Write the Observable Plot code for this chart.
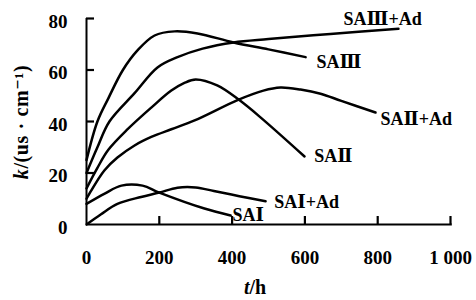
<!DOCTYPE html>
<html><head><meta charset="utf-8">
<script src="https://cdn.jsdelivr.net/npm/d3@7"></script>
<script src="https://cdn.jsdelivr.net/npm/@observablehq/plot@0.6"></script>
<style>body{margin:0;background:#fff}</style>
</head><body><div id="chart"></div>
<script>
// [t (h), k] points
const SA3    = [[0,25],[30,40],[60,49],[100,60],[140,67.6],[187,73.4],[242,75],[305,74.2],[404,70.7],[500,68],[602,65]];
const SA3Ad  = [[0,20],[30,30],[63,40],[132,51],[195,61],[250,65],[319,68.3],[404,70.7],[500,72],[670,74],[857,76]];
const SA2    = [[0,14],[30,22],[60,29],[113,37],[178,45.4],[233,52],[269,55],[300,56.3],[359,54],[418,48.5],[478,41.6],[599,26.4]];
const SA2Ad  = [[0,10],[8,12],[49,21],[85,26],[132,30.7],[178,34],[233,37],[297,40.4],[418,48.5],[486,52],[533,53.2],[588,52.4],[643,50.8],[700,48],[794,43.5]];
const SA1    = [[0,8],[50,12],[96,15.1],[154,15.1],[200,12.4],[324,6.2],[396,3.5]];
const SA1Ad  = [[0,0],[40,4],[85,8],[150,10.7],[200,12.4],[250,14.3],[300,14.4],[350,13],[420,11],[492,9]];

const seriesNames = ["SAⅢ","SAⅢ+Ad","SAⅡ","SAⅡ+Ad","SAⅠ","SAⅠ+Ad"];
const seriesData  = [SA3, SA3Ad, SA2, SA2Ad, SA1, SA1Ad];
const labelT = [632, 706, 626, 808, 401, 516];
const labelK = [63.1, 79.8, 26.6, 41, 3.5, 8.7];

const xTicks = [0,200,400,600,800,1000];
const yTicks = [0,20,40,60,80];

const rows = seriesNames.flatMap((name,i) => seriesData[i].map(([t,k]) => ({name,t,k})));
const labels = seriesNames.map((name,i) => ({name, t: labelT[i], k: labelK[i]}));
const xTickRows = xTicks.filter(v => v > 0).map(v => ({v}));
const yTickRows = yTicks.filter(v => v > 0).map(v => ({v}));

const font = "'Liberation Serif','DejaVu Serif',serif";

const plot = Plot.plot({
  width: 476, height: 300,
  marginLeft: 86, marginRight: 26, marginTop: 18, marginBottom: 76,
  style: {fontFamily: font, fontWeight: "bold", fontSize: "19px", background: "#fff", color: "#000"},
  x: {domain: [0,1000], label: null},
  y: {domain: [0,80], label: null},
  marks: [
    Plot.ruleX([0], {y1: 0, y2: 80, strokeWidth: 2}),
    Plot.ruleY([0], {x1: 0, x2: 1005, strokeWidth: 2}),
    // inward tick marks (about 8 px long)
    Plot.ruleX(xTickRows, {x: "v", y1: 0, y2: 3.1, stroke: "#000", strokeWidth: 2.2}),
    Plot.ruleY(yTickRows, {y: "v", x1: 0, x2: 22, stroke: "#000", strokeWidth: 2.2}),
    // tick labels
    Plot.axisX({ticks: xTicks, tickSize: 0, tickPadding: 26, tickFormat: d => d === 1000 ? "1 000" : String(d)}),
    Plot.axisY({ticks: yTicks, tickSize: 0, tickPadding: 19, dy: 3}),
    Plot.line(rows, {x: "t", y: "k", z: "name", stroke: "#000", strokeWidth: 2.5, curve: "catmull-rom"}),
    Plot.text(labels, {x: "t", y: "k", text: "name", textAnchor: "start", lineAnchor: "middle", fontSize: 18, fontWeight: "bold"})
  ]
});

const svg = d3.select(plot);
const yl = svg.append("text")
  .attr("transform", "translate(23,122) rotate(-90)")
  .attr("text-anchor", "middle")
  .attr("dominant-baseline", "middle")
  .style("font-family", font).style("font-weight", "bold").style("font-size", "20px")
  .style("letter-spacing", "0.6px");
yl.append("tspan").style("font-style", "italic").text("k");
yl.append("tspan").text("/(us · cm⁻¹)");
const xl = svg.append("text")
  .attr("x", 255).attr("y", 294)
  .attr("text-anchor", "middle")
  .style("font-family", font).style("font-weight", "bold").style("font-size", "20px");
xl.append("tspan").style("font-style", "italic").text("t");
xl.append("tspan").text("/h");

document.getElementById("chart").appendChild(plot);
</script>
</body></html>
